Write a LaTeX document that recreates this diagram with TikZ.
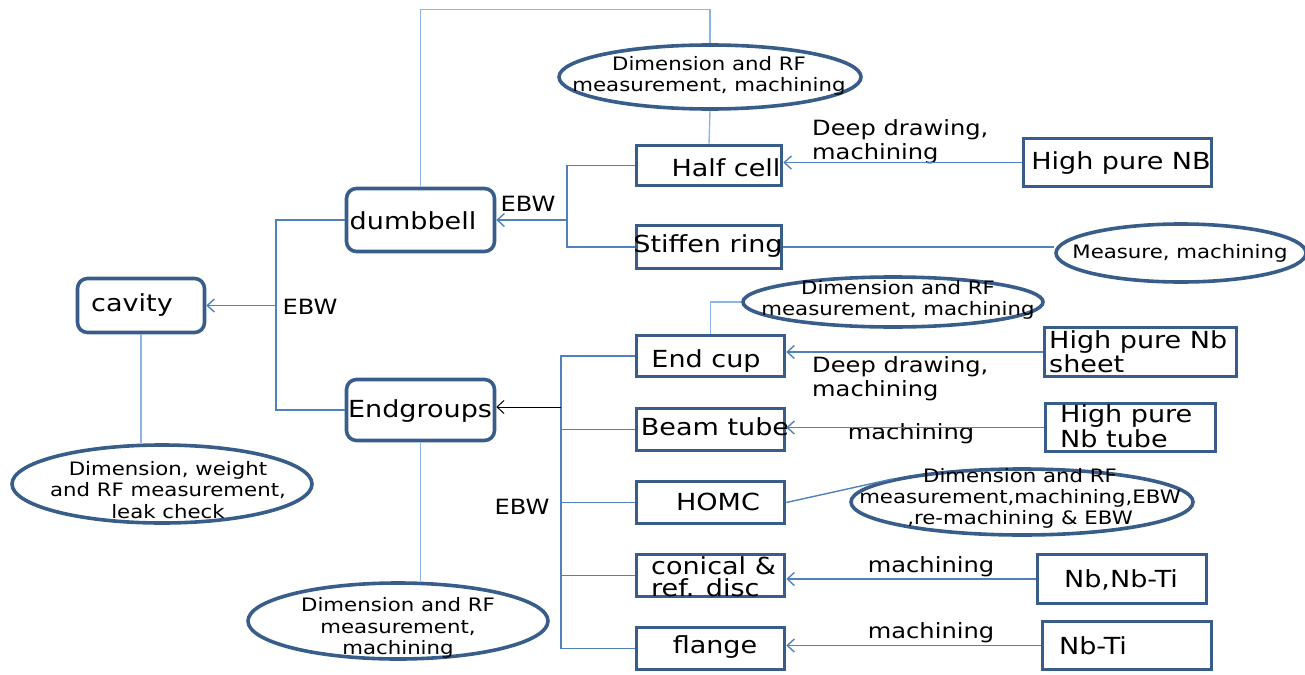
\documentclass[tikz,border=0pt]{standalone}
\usepackage{fontspec}
\setmainfont{DejaVu Sans}[FakeStretch=1.15]
\usetikzlibrary{shapes.geometric,arrows.meta}
\definecolor{boxc}{HTML}{385D8A}
\definecolor{linec}{HTML}{4F81BD}
\definecolor{lightc}{HTML}{8DB4E2}
\tikzset{
  box/.style={draw=boxc, line width=3.6pt, rectangle, inner sep=0pt},
  rbox/.style={box, rounded corners=10pt},
  oval/.style={draw=boxc, line width=3.6pt, ellipse, inner sep=0pt},
  btxt/.style={font=\fontsize{23.5}{26}\selectfont, inner sep=0pt},
  etxt/.style={font=\fontsize{18.5}{21.5}\selectfont, inner sep=0pt, align=center},
  ltxt/.style={font=\fontsize{21}{24}\selectfont, inner sep=0pt, align=left},
  conn/.style={draw=linec, line width=1.4pt},
  lconn/.style={draw=lightc, line width=1.4pt},
  tip/.style={-{Straight Barb[length=7pt,width=13pt]}},
  arr/.style={conn, tip},
}
\begin{document}
\begin{tikzpicture}[x=1pt,y=-1pt]
\useasboundingbox (0,0) rectangle (1305,674);
% boxes
\node[rbox, minimum width=127, minimum height=54] (cavity) at (141,305.5) {};
\node[rbox, minimum width=148, minimum height=63] (dumb) at (420.5,220) {};
\node[rbox, minimum width=148, minimum height=61] (endg) at (420.5,410) {};
\node[box, minimum width=145, minimum height=40] (half) at (709,165.5) {};
\node[box, minimum width=145, minimum height=43] (stiff) at (709,247) {};
\node[box, minimum width=148, minimum height=41] (endcup) at (710.5,356) {};
\node[box, minimum width=148, minimum height=42] (beam) at (710.5,429.5) {};
\node[box, minimum width=148, minimum height=42] (homc) at (710.5,502.5) {};
\node[box, minimum width=148, minimum height=42] (conical) at (710.5,575.5) {};
\node[box, minimum width=148, minimum height=42] (flange) at (710.5,648.5) {};
\node[box, minimum width=188, minimum height=48] (hpnb) at (1117.5,162.5) {};
\node[box, minimum width=192, minimum height=49] (sheet) at (1140.5,352) {};
\node[box, minimum width=170, minimum height=48] (tube) at (1130.5,427.5) {};
\node[box, minimum width=169, minimum height=49] (nbnbti) at (1122,579) {};
\node[box, minimum width=169, minimum height=48] (nbti) at (1127,645.5) {};
% ellipses
\node[oval, minimum width=302, minimum height=64] (etop) at (710,77) {};
\node[oval, minimum width=250, minimum height=58] (emeas) at (1181,253) {};
\node[oval, minimum width=300, minimum height=50] (eendcup) at (893,302) {};
\node[oval, minimum width=342, minimum height=66] (ehomc) at (1022,502) {};
\node[oval, minimum width=300, minimum height=78] (ecav) at (162,484) {};
\node[oval, minimum width=300, minimum height=76] (eendg) at (398,621) {};
% box texts
\node[btxt] (tcav) at (132,305) {cavity};
\node[btxt] (tdumb) at (413,221) {dumbbell};
\node[btxt] (tendg) at (420,411) {Endgroups};
\node[btxt] (thalf) at (726,168) {Half cell};
\node[btxt] (tstiff) at (708,246) {Stiffen ring};
\node[btxt] (tendcup) at (706,361) {End cup};
\node[btxt] (tbeam) at (715,427) {Beam tube};
\node[btxt] (thomc) at (718,502) {HOMC};
\node[btxt, font=\fontsize{23.5}{22}\selectfont, align=left, anchor=west] (tcon) at (651,577) {conical \&\\ref. disc};
\node[btxt] (tflange) at (715,647) {flange};
\node[btxt] (thpnb) at (1121,163) {High pure NB};
\node[btxt, font=\fontsize{23.5}{22}\selectfont, align=left, anchor=west] (tsheet) at (1049,352) {High pure Nb\\sheet};
\node[btxt, font=\fontsize{23.5}{25}\selectfont, align=left, anchor=west] (ttube) at (1060,426) {High pure\\Nb tube};
\node[btxt] (tnbnbti) at (1121,580) {Nb,Nb-Ti};
\node[btxt] (tnbti) at (1093,646) {Nb-Ti};
% ellipse texts
\node[etxt] (tetop) at (709,76) {Dimension and RF\\measurement, machining};
\node[etxt] (temeas) at (1180,253) {Measure, machining};
\node[etxt] (teendcup) at (898,300) {Dimension and RF\\measurement, machining};
\node[etxt, font=\fontsize{18.5}{21}\selectfont] (tehomc) at (1020,498) {Dimension and RF\\measurement,machining,EBW\\,re-machining \& EBW};
\node[etxt] (tecav) at (168,490) {Dimension, weight\\and RF measurement,\\leak check};
\node[etxt] (teendg) at (398,628) {Dimension and RF\\measurement,\\machining};
% connector labels
\node[ltxt, anchor=west] (l1) at (812,142) {Deep drawing,\\machining};
\node[ltxt, anchor=west] (l2) at (812,379) {Deep drawing,\\machining};
\node[ltxt] (l3) at (911,434) {machining};
\node[ltxt] (l4) at (931,567) {machining};
\node[ltxt] (l5) at (931,633) {machining};
\node[ltxt] (ebw1) at (528,204) {EBW};
\node[ltxt] (ebw2) at (310,307) {EBW};
\node[ltxt] (ebw3) at (522,507) {EBW};
% junction coordinates
\coordinate (jd) at (567,220);
\coordinate (jc) at (276,305.5);
\coordinate (je) at (561,407);
% connectors
\draw[lconn] (dumb.north) -- ++(0,-177) -| (etop.north);
\draw[lconn] (etop.south) -- (half.north);
\draw[conn] (half.west) -| (jd) |- (stiff.west);
\draw[arr] (jd) -- (dumb.east);
\draw[conn] (dumb.west) -| (jc) |- (endg.west);
\draw[arr] (jc) -- (cavity.east);
\draw[lconn] (cavity.south) -- (cavity.south |- ecav.north);
\draw[lconn] (endg.south) -- (endg.south |- eendg.north);
\draw[conn] (endcup.west) -| (je) |- (flange.west);
\draw[conn] (je |- beam.west) -- (beam.west);
\draw[conn] (je |- homc.west) -- (homc.west);
\draw[conn] (je |- conical.west) -- (conical.west);
\draw[draw=black, line width=1pt, tip] (je) -- (endg.east |- je);
\draw[lconn] (endcup.north) |- (eendcup.west);
\draw[conn] (stiff.east) -- (emeas.west |- stiff.east);
\draw[conn] (homc.east) -- (ehomc.170);
\draw[arr] (hpnb.west) -- (half.east |- hpnb.west);
\draw[arr] (sheet.west) -- (endcup.east |- sheet.west);
\draw[arr] (tube.west) -- (beam.east |- tube.west);
\draw[arr] (nbnbti.west) -- (conical.east |- nbnbti.west);
\draw[arr] (nbti.west) -- (flange.east |- nbti.west);
\end{tikzpicture}
\end{document}
